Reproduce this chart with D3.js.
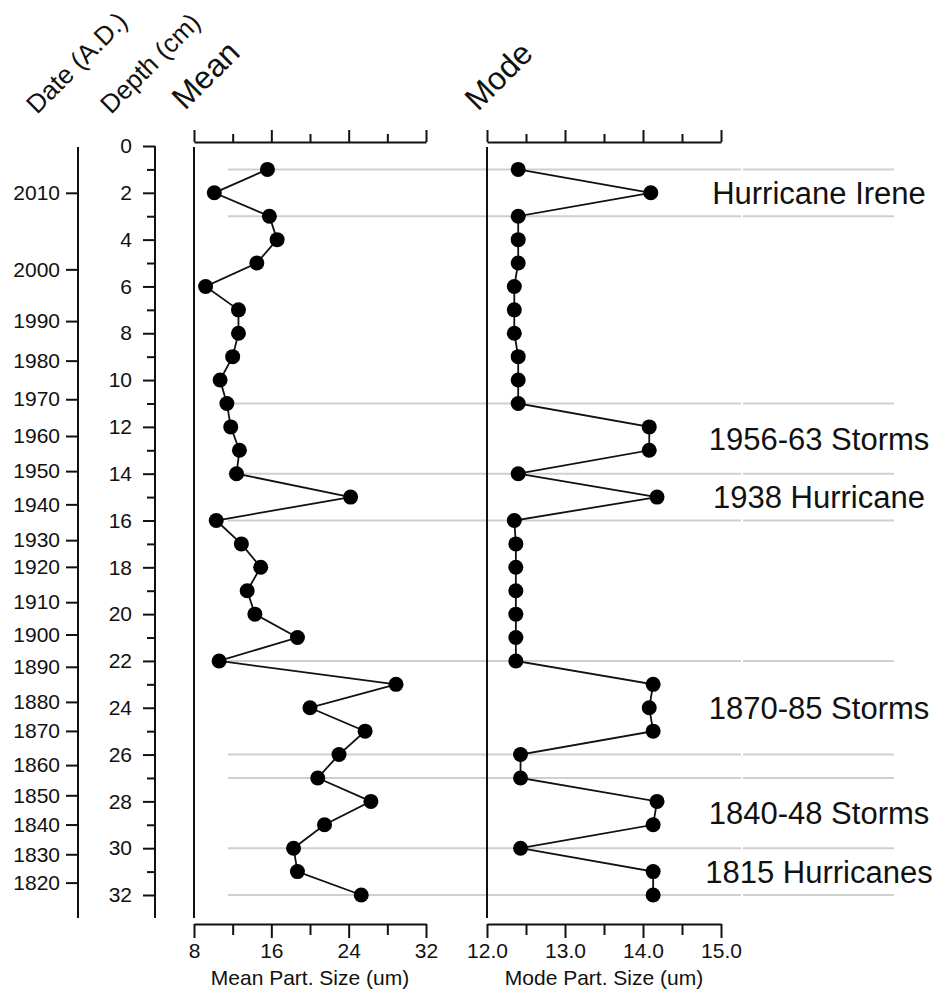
<!DOCTYPE html>
<html>
<head>
<meta charset="utf-8">
<script src="https://cdn.jsdelivr.net/npm/d3@7"></script>
<style>
  html, body { margin: 0; padding: 0; background: #fff; }
  svg { display: block; }
  text { font-family: "Liberation Sans", Arial, sans-serif; fill: #111; }
</style>
</head>
<body>
<svg id="chart" width="943" height="994"></svg>
<script>
// ---- data ----
const depths = [1,2,3,4,5,6,7,8,9,10,11,12,13,14,15,16,17,18,19,20,21,22,23,24,25,26,27,28,29,30,31,32];
const meanSize = [15.6,10.1,15.8,16.6,14.5,9.2,12.6,12.6,12.0,10.7,11.4,11.8,12.7,12.4,24.2,10.3,12.9,14.9,13.5,14.3,18.7,10.6,28.9,20.0,25.7,23.0,20.8,26.3,21.5,18.3,18.7,25.3];
const modeSize = [12.40,14.10,12.40,12.40,12.40,12.35,12.35,12.35,12.40,12.40,12.40,14.08,14.08,12.40,14.18,12.35,12.37,12.37,12.37,12.37,12.37,12.37,14.13,14.08,14.13,12.43,12.43,14.18,14.13,12.43,14.13,14.13];
const dateYears = [2010,2000,1990,1980,1970,1960,1950,1940,1930,1920,1910,1900,1890,1880,1870,1860,1850,1840,1830,1820];
const dateDepths = [2.0,5.27,7.48,9.17,10.82,12.39,13.89,15.31,16.84,17.98,19.49,20.87,22.25,23.75,24.99,26.45,27.74,28.99,30.26,31.47];
const depthMajor = [0,2,4,6,8,10,12,14,16,18,20,22,24,26,28,30,32];
const depthMinor = [1,3,5,7,9,11,13,15,17,19,21,23,25,27,29,31];
const meanMajor = [8,16,24,32];
const meanMinor = [12,20,28];
const modeMajor = [12,13,14,15];
const modeMinor = [12.5,13.5,14.5];
const eventDepths = [1,3,11,14,16,22,26,27,30,32];
const eventLabels = ["Hurricane Irene","1956-63 Storms","1938 Hurricane","1870-85 Storms","1840-48 Storms","1815 Hurricanes"];
const eventLabelDepths = [2,12.5,15,24,28.5,31];

// ---- scales ----
const svg = d3.select("#chart");
const y = d3.scaleLinear().domain([0,32]).range([146,895]);
const xMean = d3.scaleLinear().domain([8,32]).range([194,426]);
const xMode = d3.scaleLinear().domain([12,15]).range([487,721]);
const axisBottomY = 924, axisTopY = 142, vTop = 146, vBottom = 918;
const FS = 21;

function styleAxis(g){
  g.selectAll("path.domain").attr("stroke","#111").attr("stroke-width",2);
  g.selectAll(".tick line").attr("stroke","#111").attr("stroke-width",2);
  g.selectAll(".tick text").attr("font-size",FS).attr("font-family","'Liberation Sans', Arial, sans-serif").attr("fill","#111");
}

// ---- gray event lines ----
const ev = svg.append("g");
eventDepths.forEach(d => {
  ev.append("line").attr("x1",228).attr("x2",741).attr("y1",y(d)).attr("y2",y(d))
    .attr("stroke","#cfcfcf").attr("stroke-width",2);
  ev.append("line").attr("x1",743).attr("x2",894).attr("y1",y(d)).attr("y2",y(d))
    .attr("stroke","#cfcfcf").attr("stroke-width",2);
});

// ---- date axis ----
const gDate = svg.append("g").attr("transform","translate(78,0)");
gDate.call(d3.axisLeft(y).tickValues(dateDepths).tickSize(12).tickPadding(6)
  .tickFormat((d,i)=>dateYears[i]));
gDate.select("path.domain").remove();
styleAxis(gDate);
gDate.append("line").attr("x1",0).attr("x2",0).attr("y1",vTop+1).attr("y2",vBottom).attr("stroke","#111").attr("stroke-width",2);

// ---- depth axis ----
const gDepth = svg.append("g").attr("transform","translate(155,0)");
gDepth.call(d3.axisLeft(y).tickValues(depthMajor).tickSize(12).tickPadding(11).tickFormat(d3.format("d")));
gDepth.select("path.domain").remove();
styleAxis(gDepth);
const gDepthMinor = svg.append("g").attr("transform","translate(155,0)");
gDepthMinor.call(d3.axisLeft(y).tickValues(depthMinor).tickSize(8).tickFormat(""));
gDepthMinor.select("path.domain").remove();
styleAxis(gDepthMinor);
gDepth.append("line").attr("x1",0).attr("x2",0).attr("y1",vTop).attr("y2",vBottom).attr("stroke","#111").attr("stroke-width",2);

// ---- panels ----
function panel(x, values, major, minor, fmt, title){
  const gt = svg.append("g").attr("transform",`translate(0,${axisTopY})`);
  gt.call(d3.axisTop(x).tickValues(major).tickSize(12).tickSizeOuter(0).tickFormat(""));
  styleAxis(gt);
  const gtm = svg.append("g").attr("transform",`translate(0,${axisTopY})`);
  gtm.call(d3.axisTop(x).tickValues(minor).tickSize(8).tickFormat(""));
  gtm.select("path.domain").remove();
  styleAxis(gtm);
  const gb = svg.append("g").attr("transform",`translate(0,${axisBottomY})`);
  gb.call(d3.axisBottom(x).tickValues(major).tickSize(14).tickSizeOuter(0).tickPadding(5).tickFormat(fmt));
  styleAxis(gb);
  const gbm = svg.append("g").attr("transform",`translate(0,${axisBottomY})`);
  gbm.call(d3.axisBottom(x).tickValues(minor).tickSize(11).tickFormat(""));
  gbm.select("path.domain").remove();
  styleAxis(gbm);
  svg.append("text").attr("x",(x.range()[0]+x.range()[1])/2).attr("y",985)
    .attr("text-anchor","middle").attr("font-size",FS).text(title);
  svg.append("line").attr("x1",x.range()[0]).attr("x2",x.range()[0]).attr("y1",vTop+1).attr("y2",vBottom)
    .attr("stroke","#111").attr("stroke-width",2);
  const line = d3.line().x((d,i)=>x(values[i])).y(d=>y(d));
  svg.append("path").datum(depths).attr("d",line).attr("fill","none")
    .attr("stroke","#111").attr("stroke-width",1.8);
  svg.append("g").selectAll("circle").data(depths).join("circle")
    .attr("cx",(d,i)=>x(values[i])).attr("cy",d=>y(d)).attr("r",7.5).attr("fill","#000");
}
panel(xMean, meanSize, meanMajor, meanMinor, d3.format("d"), "Mean Part. Size (um)");
panel(xMode, modeSize, modeMajor, modeMinor, d3.format(".1f"), "Mode Part. Size (um)");

// ---- event labels ----
svg.append("g").selectAll("text").data(eventLabels).join("text")
  .attr("x",819).attr("y",(d,i)=>y(eventLabelDepths[i])).attr("dy","0.36em")
  .attr("text-anchor","middle").attr("font-size",31).text(d=>d);

// ---- rotated headers ----
const headers = [
  {t:"Date (A.D.)", x:37, y:115, s:26},
  {t:"Depth (cm)", x:111, y:115, s:26},
  {t:"Mean", x:185, y:111, s:32},
  {t:"Mode", x:478, y:112, s:32}
];
svg.append("g").selectAll("text").data(headers).join("text")
  .attr("transform",d=>`translate(${d.x},${d.y}) rotate(-45)`)
  .attr("font-size",d=>d.s).text(d=>d.t);
</script>
</body>
</html>
